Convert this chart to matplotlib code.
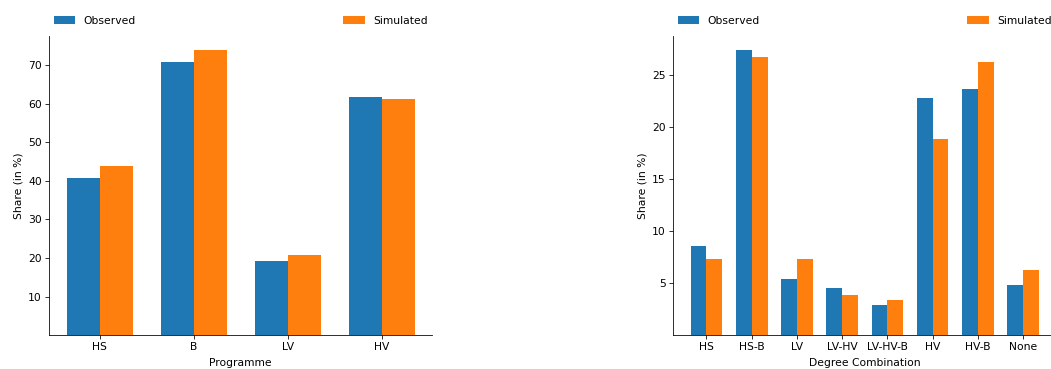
import numpy as np
import matplotlib
matplotlib.use("Agg")
import matplotlib.pyplot as plt

plt.rcParams["font.size"] = 10.7

# programme shares
programmes = ["HS", "B", "LV", "HV"]
prog_observed = [40.8, 70.7, 19.3, 61.6]
prog_simulated = [43.7, 73.8, 20.8, 61.3]

# degree combination shares
combos = ["HS", "HS-B", "LV", "LV-HV", "LV-HV-B", "HV", "HV-B", "None"]
comb_observed = [8.6, 27.4, 5.45, 4.5, 2.95, 22.8, 23.65, 4.85]
comb_simulated = [7.35, 26.75, 7.35, 3.9, 3.4, 18.9, 26.3, 6.3]

width = 0.35


def bar_pair(ax, cats, obs, sim, xlabel, yticks):
    x = np.arange(len(cats))
    ax.bar(x - width / 2, obs, width, label="Observed", color="#1f77b4")
    ax.bar(x + width / 2, sim, width, label="Simulated", color="#ff7f0e")
    ax.set_xticks(x)
    ax.set_xticklabels(cats)
    ax.set_yticks(yticks)
    ax.set_xlabel(xlabel, labelpad=5.5)
    ax.set_ylabel("Share (in %)", labelpad=5)
    ax.tick_params(length=3.8)
    ax.spines["top"].set_visible(False)
    ax.spines["right"].set_visible(False)
    ax.legend(bbox_to_anchor=(0., 1.02, 1., .102), loc="lower left", ncol=2,
              mode="expand", borderaxespad=0., frameon=False)


fig, (ax1, ax2) = plt.subplots(1, 2, figsize=(1051 / 72, 369 / 72), dpi=72)
fig.subplots_adjust(left=0.0469, right=1.005, bottom=0.0916, top=0.9024, wspace=0.629)

bar_pair(ax1, programmes, prog_observed, prog_simulated, "Programme", range(10, 80, 10))
bar_pair(ax2, combos, comb_observed, comb_simulated, "Degree Combination", range(5, 30, 5))

fig.savefig("out.png", dpi=72)
